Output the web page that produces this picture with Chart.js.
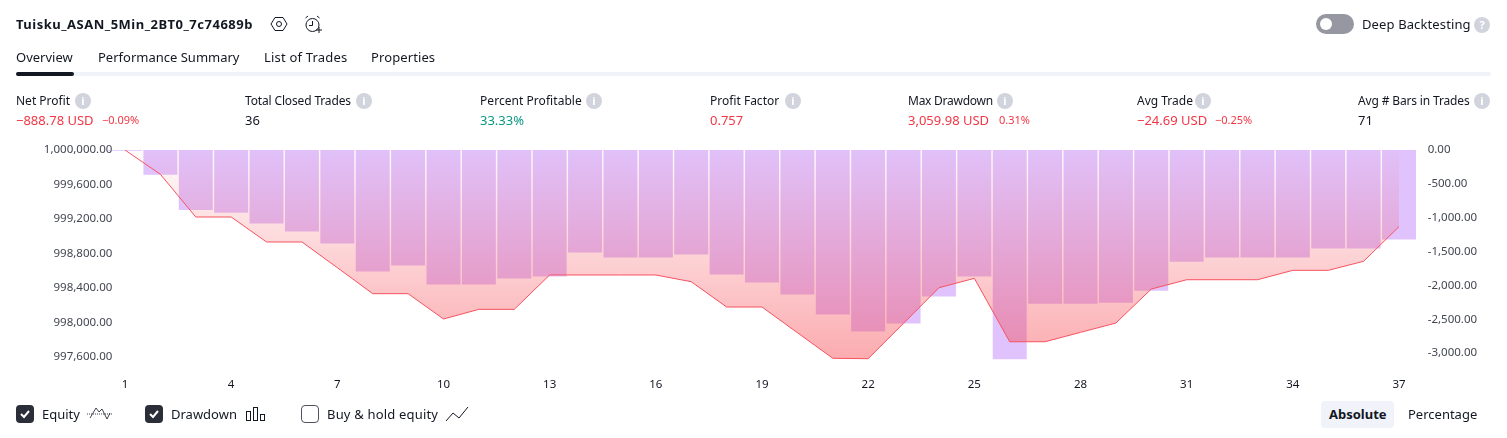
<!DOCTYPE html>
<html><head><meta charset="utf-8">
<script src="https://cdn.jsdelivr.net/npm/chart.js@4"></script>
<style>
html,body{margin:0;padding:0;background:#fff;width:1507px;height:438px;overflow:hidden}
body{font-family:"Noto Sans",sans-serif;color:#131722;position:relative}
canvas{position:absolute;left:0;top:0}
.t{position:absolute;white-space:nowrap;font-size:13px;line-height:18px;transform:translateY(-50%)}
.b{position:absolute}
.i{position:absolute;width:16px;height:16px;border-radius:50%;background:#d1d4dc;color:#fff;font:bold 11px/16px "Noto Sans",sans-serif;text-align:center;transform:translate(-50%,-50%)}
.r{color:#f23645}.g{color:#089981}.s{font-size:11px}
.c{position:absolute;width:18px;height:18px;border-radius:4px;box-sizing:border-box}
svg{position:absolute;overflow:visible}
</style></head><body>
<canvas id="c" width="1507" height="438"></canvas>

<div class="t" style="left:16px;top:24px;font-weight:700;font-size:13px;letter-spacing:.5px">Tuisku_ASAN_5Min_2BT0_7c74689b</div>
<svg style="left:270px;top:15px" width="18" height="18" fill="none" stroke="#131722"><path d="M5 2.500h8l4 6.500-4 6.500H5L1 9z"/><circle cx="9" cy="9" r="2.500"/></svg>
<svg style="left:304px;top:15px" width="20" height="18" fill="none" stroke="#131722"><circle cx="8.500" cy="10" r="6.500"/><path d="M8.500 6v4.500H5M1.500 3 4 1M15.500 3 13 1M15 12v6M12 15h6"/></svg>
<div class="b" style="left:1316px;top:14px;width:38px;height:20px;border-radius:10px;background:#9598a1"></div>
<div class="b" style="left:1320px;top:18px;width:12px;height:12px;border-radius:50%;background:#fff"></div>
<div class="t" style="left:1362px;top:24px;letter-spacing:.12px">Deep Backtesting</div>
<div class="i" style="left:1482px;top:25px">?</div>

<div class="t" style="left:16px;top:57px">Overview</div>
<div class="t" style="left:98px;top:57px">Performance Summary</div>
<div class="t" style="left:264px;top:57px;letter-spacing:.2px">List of Trades</div>
<div class="t" style="left:371px;top:57px;letter-spacing:.1px">Properties</div>
<div class="b" style="left:16px;top:72px;width:1475px;height:4px;border-radius:2px;background:#f0f3fa"></div>
<div class="b" style="left:16px;top:72px;width:58px;height:4px;border-radius:2px;background:#131722"></div>

<div class="t" style="left:16px;top:101px;font-size:12px">Net Profit</div><div class="i" style="left:83px;top:101px">i</div>
<div class="t r" style="left:16px;top:120px">−888.78 USD</div><div class="t r s" style="left:102px;top:120px">−0.09%</div>
<div class="t" style="left:245px;top:101px;font-size:12px;letter-spacing:-.15px">Total Closed Trades</div><div class="i" style="left:364px;top:101px">i</div>
<div class="t" style="left:245px;top:120px">36</div>
<div class="t" style="left:480px;top:101px;font-size:12px;letter-spacing:.05px">Percent Profitable</div><div class="i" style="left:594px;top:101px">i</div>
<div class="t g" style="left:480px;top:120px">33.33%</div>
<div class="t" style="left:710px;top:101px;font-size:12px">Profit Factor</div><div class="i" style="left:793px;top:101px">i</div>
<div class="t r" style="left:710px;top:120px">0.757</div>
<div class="t" style="left:908px;top:101px;font-size:12px;letter-spacing:-.25px">Max Drawdown</div><div class="i" style="left:1005px;top:101px">i</div>
<div class="t r" style="left:908px;top:120px">3,059.98 USD</div><div class="t r s" style="left:999px;top:120px">0.31%</div>
<div class="t" style="left:1137px;top:101px;font-size:12px">Avg Trade</div><div class="i" style="left:1203px;top:101px">i</div>
<div class="t r" style="left:1137px;top:120px">−24.69 USD</div><div class="t r s" style="left:1215px;top:120px">−0.25%</div>
<div class="t" style="left:1358px;top:101px;font-size:12px;letter-spacing:-.15px">Avg # Bars in Trades</div><div class="i" style="left:1482px;top:101px">i</div>
<div class="t" style="left:1358px;top:120px">71</div>

<div class="c" style="left:16px;top:405px;background:#2a2e39"></div>
<svg style="left:16px;top:405px" width="18" height="18" fill="none" stroke="#fff" stroke-width="2"><path d="M5 9l3 3 5-6"/></svg>
<div class="t" style="left:42px;top:414px">Equity</div>
<svg style="left:87px;top:405px" width="25" height="18" fill="none" stroke="#131722" stroke-width=".8"><path d="M3 13 9 3l3 4 3-3 5 10 3-6"/><path d="M0 9h25" stroke-dasharray="1 1"/></svg>
<div class="c" style="left:145px;top:405px;background:#2a2e39"></div>
<svg style="left:145px;top:405px" width="18" height="18" fill="none" stroke="#fff" stroke-width="2"><path d="M5 9l3 3 5-6"/></svg>
<div class="t" style="left:171px;top:414px">Drawdown</div>
<svg style="left:246px;top:405px" width="20" height="18" fill="none" stroke="#131722"><rect x=".5" y="6.500" width="4" height="9"/><rect x="7.500" y="2.500" width="4" height="13"/><rect x="14.500" y="9.500" width="4" height="6"/></svg>
<div class="c" style="left:301px;top:405px;border:1px solid #50535e"></div>
<div class="t" style="left:327px;top:414px;letter-spacing:.18px">Buy &amp; hold equity</div>
<svg style="left:445px;top:405px" width="24" height="18" fill="none" stroke="#131722"><path d="M1 16 8 8l6 5L23 2"/></svg>
<div class="b" style="left:1321px;top:401px;width:73px;height:27px;border-radius:4px;background:#f0f3fa"></div>
<div class="t" style="left:1329px;top:414px;font-weight:700">Absolute</div>
<div class="t" style="left:1408px;top:414px">Percentage</div>

<script>
const categories = [1,2,3,4,5,6,7,8,9,10,11,12,13,14,15,16,17,18,19,20,21,22,23,24,25,26,27,28,29,30,31,32,33,34,35,36,37];
const equityValues = [1000000,999718,999222,999222,998932,998932,998634,998332,998332,998038,998150,998150,998549,998549,998549,998549,998471,998177,998177,997879,997582,997577,997988,998401,998510,997774,997774,997883,997991,998386,998494,998494,998494,998603,998603,998708,999111];
const drawdownValues = [-10,-364,-885,-925,-1087,-1205,-1382,-1795,-1707,-1987,-1987,-1898,-1869,-1515,-1589,-1589,-1544,-1839,-1957,-2134,-2429,-2680,-2562,-2164,-1869,-3089,-2270,-2270,-2255,-2078,-1650,-1589,-1589,-1589,-1456,-1456,-1323];
const equityTicks = [1000000,999600,999200,998800,998400,998000,997600];
const drawdownTicks = [0,-500,-1000,-1500,-2000,-2500,-3000];
const xTickLabels = [1,4,7,10,13,16,19,22,25,28,31,34,37];

const fmt = v => v.toLocaleString('en-US',{minimumFractionDigits:2,maximumFractionDigits:2});
const tickFont = {family:'"Noto Sans",sans-serif',size:11.5};
const tickColor = '#434651';

new Chart(document.getElementById('c'),{
  data:{labels:categories,datasets:[
    {type:'line',label:'Equity',data:equityValues,yAxisID:'yE',order:0,
     borderColor:'#f7525f',borderWidth:1,pointRadius:0,tension:0,
     fill:{target:{value:1000000}},
     backgroundColor:ctx=>{
       const a=ctx.chart.chartArea; if(!a) return 'rgba(255,82,82,.2)';
       const g=ctx.chart.ctx.createLinearGradient(0,a.top,0,a.bottom);
       g.addColorStop(0,'rgba(245,60,70,.02)');
       g.addColorStop(1,'rgba(245,60,70,.44)');
       return g;
     }},
    {type:'bar',label:'Drawdown',data:drawdownValues,yAxisID:'yD',order:1,
     backgroundColor:'rgba(178,105,247,.4)',barPercentage:.96,categoryPercentage:1}
  ]},
  options:{
    responsive:false,animation:false,devicePixelRatio:1,
    layout:{padding:{top:150,left:0,right:0,bottom:0}},
    plugins:{legend:{display:false},tooltip:{enabled:false}},
    scales:{
      x:{type:'category',offset:true,grid:{display:false,drawTicks:false},border:{display:false},
         afterFit:s=>{s.height=73},
         ticks:{autoSkip:false,maxRotation:0,padding:13,color:'#131722',font:tickFont,
                callback(v){const l=this.getLabelForValue(v);return xTickLabels.includes(l)?String(l):''}}},
      yE:{position:'left',min:997504,max:1000000,grid:{display:false,drawTicks:false},border:{display:false},
          afterFit:s=>{s.width=107.3;s._computeLabelArea=()=>undefined},
          afterBuildTicks:s=>{s.ticks=equityTicks.map(value=>({value}))},
          ticks:{autoSkip:false,padding:-5,color:tickColor,font:tickFont,callback:fmt}},
      yD:{position:'right',min:-3175.5,max:0,grid:{display:false,drawTicks:false},border:{display:false},
          afterFit:s=>{s.width=90.3},
          afterBuildTicks:s=>{s.ticks=drawdownTicks.map(value=>({value}))},
          ticks:{autoSkip:false,padding:11,color:tickColor,font:tickFont,callback:fmt}}
    }
  }
});
</script>
</body></html>
